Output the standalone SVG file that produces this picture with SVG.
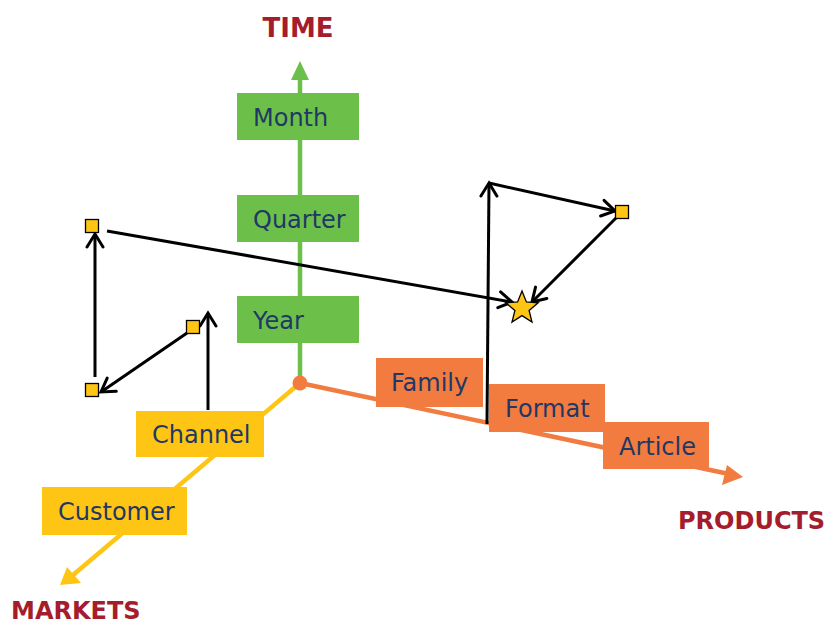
<svg xmlns="http://www.w3.org/2000/svg" width="827" height="625" viewBox="0 0 827 625">
<style>
.title{font-family:"DejaVu Sans",Verdana,sans-serif;font-weight:bold;font-size:24px;fill:#A51C2D}
.lbl{font-family:"DejaVu Sans",Verdana,sans-serif;font-size:24px;fill:#1F3864}
.g{fill:#6CC04A}
.o{fill:#F27B40}
.y{fill:#FFC515}
.conn{stroke:#000;stroke-width:3;fill:none;marker-end:url(#chev)}
.pt{fill:#FFC515;stroke:#000;stroke-width:1.3}
</style>
<defs>
<marker id="chev" markerUnits="userSpaceOnUse" markerWidth="30" markerHeight="30" viewBox="-15 -15 30 30" refX="0" refY="0" orient="auto">
<path d="M-13,-8 L0,0 L-13,8" fill="none" stroke="#000" stroke-width="3" stroke-linecap="round" stroke-linejoin="miter"/>
</marker>
</defs>
<g id="titles">
<text class="title" x="298" y="37" text-anchor="middle" style="font-size:26px">TIME</text>
<text class="title" x="11" y="619">MARKETS</text>
<text class="title" x="678" y="529">PRODUCTS</text>
</g>
<g id="axes">
<line x1="300" y1="383" x2="300" y2="76" stroke="#6CC04A" stroke-width="4.5"/>
<polygon points="300,61 291,80 309,80" fill="#6CC04A"/>
<line x1="300" y1="383" x2="729" y2="474" stroke="#F27B40" stroke-width="4.5"/>
<polygon points="743,477 727,465 722,485" fill="#F27B40"/>
<line x1="300" y1="383" x2="73" y2="575" stroke="#FFC515" stroke-width="4.5"/>
<polygon points="60,585 67,567 81,583" fill="#FFC515"/>
</g>
<g id="connectors">
<line class="conn" x1="208" y1="410" x2="208" y2="313"/>
<line class="conn" x1="187" y1="333" x2="101" y2="392"/>
<line class="conn" x1="95" y1="377" x2="95" y2="234"/>
<line class="conn" x1="107" y1="231" x2="512" y2="302"/>
<line class="conn" x1="487" y1="424" x2="489" y2="183"/>
<line x1="489" y1="183" x2="615" y2="211" stroke="#000" stroke-width="3" marker-end="url(#chev)"/>
<line class="conn" x1="616" y1="218" x2="532" y2="302"/>
</g>
<g id="month"><rect class="g" x="237" y="93" width="122" height="47"/><text class="lbl" x="253" y="126">Month</text></g>
<g id="quarter"><rect class="g" x="237" y="195" width="122" height="47"/><text class="lbl" x="253" y="228">Quarter</text></g>
<g id="year"><rect class="g" x="237" y="296" width="122" height="47"/><text class="lbl" x="253" y="329">Year</text></g>
<g id="family"><rect class="o" x="376" y="358" width="107" height="49"/><text class="lbl" x="391" y="391">Family</text></g>
<g id="format"><rect class="o" x="489" y="384" width="116" height="48"/><text class="lbl" x="505" y="417">Format</text></g>
<g id="article"><rect class="o" x="603" y="422" width="106" height="47"/><text class="lbl" x="619" y="455">Article</text></g>
<g id="channel"><rect class="y" x="136" y="411" width="128" height="46"/><text class="lbl" x="152" y="443">Channel</text></g>
<g id="customer"><rect class="y" x="42" y="487" width="145" height="48"/><text class="lbl" x="58" y="520">Customer</text></g>
<g id="origin"><circle cx="300" cy="383" r="7.5" fill="#F27B40"/></g>
<g id="points">
<rect class="pt" x="186.5" y="320.5" width="13" height="13"/>
<rect class="pt" x="85.5" y="383.5" width="13" height="13"/>
<rect class="pt" x="85.5" y="219.5" width="13" height="13"/>
<rect class="pt" x="615.5" y="205.5" width="13" height="13"/>
<polygon class="pt" points="522,291 526.4,301.9 538.2,302.8 529.1,310.4 532,322 522,315.6 512,322 514.9,310.4 505.8,302.8 517.6,301.9"/>
</g>
</svg>
